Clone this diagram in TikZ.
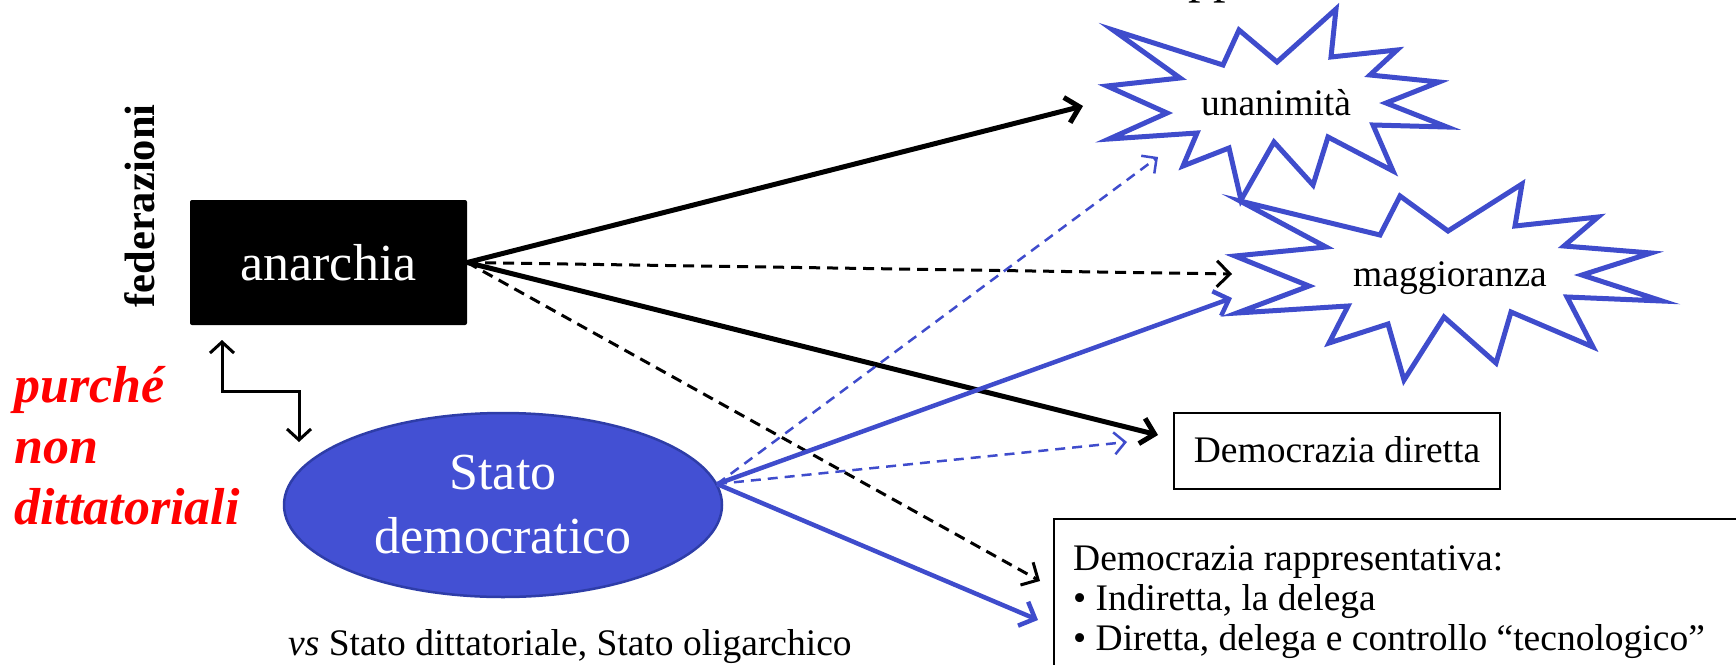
\documentclass[tikz,border=0pt]{standalone}
\usepackage{fontspec}
\setmainfont{Liberation Serif}
\usetikzlibrary{arrows.meta,shapes.geometric,calc}
\definecolor{sblue}{RGB}{63,76,204}
\definecolor{efill}{RGB}{67,80,211}
\definecolor{edraw}{RGB}{46,61,168}
\begin{document}
\begin{tikzpicture}[x=1pt,y=-1pt,
  txt/.style={font=\fontsize{37.5}{45}\selectfont, inner sep=0pt},
  big/.style={font=\fontsize{52}{64}\selectfont},
  redtxt/.style={font=\fontsize{52}{61}\selectfont\bfseries\itshape, text=red, inner sep=0pt},
  head/.style={-{Straight Barb[length=13pt,width=26pt]}},
  blk/.style={draw=black, line width=5pt, head},
  blkd/.style={draw=black, line width=3pt, dash pattern=on 11pt off 7pt, head},
  blu/.style={draw=sblue, line width=4.5pt, head},
  blud/.style={draw=sblue, line width=2.5pt, dash pattern=on 10pt off 7pt, -{Straight Barb[length=11pt,width=22pt]}},
  starline/.style={draw=sblue, line width=5pt, line join=miter},
  boxline/.style={draw=black, line width=1.8pt},
  elbow/.style={draw=black, line width=3pt, {Straight Barb[length=11pt,width=24pt]}-{Straight Barb[length=11pt,width=24pt]}}
]
\useasboundingbox (0,0) rectangle (1736,664);

% cut title fragment
\node (title) [anchor=base west, font=\fontsize{50}{60}\selectfont, inner sep=0pt] at (1188,-8) {pp};

% main nodes
\node (anarchia) [fill=black, rounded corners=2pt, minimum width=277pt, minimum height=125pt,
  text=white, big] at (328.5,262.5) {anarchia};
\node (fed) [rotate=90, font=\fontsize{42.5}{50}\selectfont\bfseries] at (140,206) {federazioni};

\node (stato) [ellipse, fill=efill, draw=edraw, line width=2.5pt, minimum width=438pt,
  minimum height=184pt, text=white, align=center, big] at (503,505) {Stato\\democratico};

\node (p1) [redtxt, anchor=base west] at (14,402) {purché};
\node (p2) [redtxt, anchor=base west] at (14,463) {non};
\node (p3) [redtxt, anchor=base west] at (14,524) {dittatoriali};

\node (vs) [txt, anchor=base west] at (288,655) {\textit{vs} Stato dittatoriale, Stato oligarchico};

% stars
\draw[starline] (1113,30) -- (1223,65) -- (1239,30) -- (1277,62) -- (1336,9) -- (1331,57)
  -- (1397,50) -- (1370,75) -- (1439,82) -- (1386,103) -- (1447,127) -- (1373,125)
  -- (1393,171) -- (1328,137) -- (1313,185) -- (1274,142) -- (1241,200) -- (1229,148)
  -- (1183,166) -- (1197,133) -- (1109,139) -- (1167,113) -- (1107,86) -- (1180,78) -- cycle;
\node (unan) [txt, anchor=base] at (1276,115) {unanimità};

\draw[starline] (1240,201) -- (1380,235) -- (1400,196) -- (1448,231) -- (1522,184) -- (1515,226)
  -- (1598,217) -- (1564,246) -- (1651,253) -- (1582,275) -- (1662,301) -- (1567,297)
  -- (1593,347) -- (1511,312) -- (1496,363) -- (1444,317) -- (1404,380) -- (1388,324)
  -- (1329,343) -- (1348,306) -- (1237,313) -- (1309,286) -- (1235,256) -- (1326,247) -- cycle;
\node (magg) [txt, anchor=base] at (1450,286) {maggioranza};

% boxes
\node (dd) [boxline, minimum width=326pt, minimum height=76pt, inner sep=0pt] at (1337,451) {};
\node (ddt) [txt, anchor=base] at (1337,462) {Democrazia diretta};

\node (rapp) [boxline, anchor=north west, minimum width=720pt, minimum height=170pt] at (1053,518) {};
\node (r1) [txt, anchor=base west] at (1073,570) {Democrazia rappresentativa:};
\node (r2) [txt, anchor=base west] at (1073,610) {• Indiretta, la delega};
\node (r3) [txt, anchor=base west] at (1073,650) {• Diretta, delega e controllo “tecnologico”};

% arrow end points
\coordinate (sE) at (717,484);
\coordinate (tUnanK) at (1083,106);
\coordinate (tDDK) at (1158,435);
\coordinate (tMaggK) at (1232,274);
\coordinate (tRappK) at (1040,581);
\coordinate (tMaggB) at (1232,298);
\coordinate (tRappB) at (1038,620);
\coordinate (tUnanB) at (1158,157);
\coordinate (tDDB) at (1127,442);
\coordinate (eA) at (222,340);
\coordinate (eB) at (299,442);

% connectors
\draw[blk] (anarchia.east) -- (tUnanK);
\draw[blk] (anarchia.east) -- (tDDK);
\draw[blkd] (anarchia.east) -- (tMaggK);
\draw[blkd] (anarchia.east) -- (tRappK);

\draw[blud] (sE) -- (tUnanB);
\draw[blud] (sE) -- (tDDB);
\draw[blu] (sE) -- (tMaggB);
\draw[blu] (sE) -- (tRappB);

\draw[elbow] (eA) |- ($(eA)!0.5!(eB)$) -| (eB);
\end{tikzpicture}
\end{document}
